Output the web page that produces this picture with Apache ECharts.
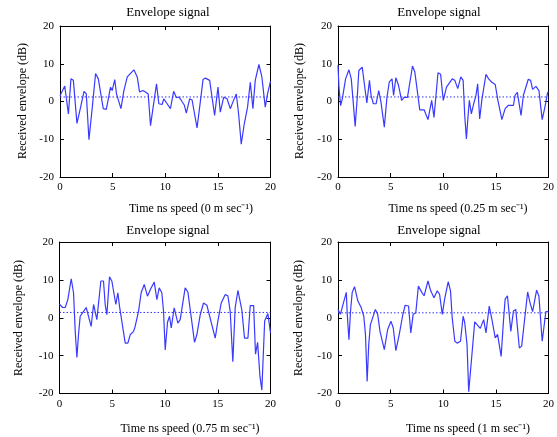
<!DOCTYPE html>
<html>
<head>
<meta charset="utf-8">
<script src="https://cdn.jsdelivr.net/npm/echarts@6/dist/echarts.min.js"></script>
<style>
html,body{margin:0;padding:0;background:#fff;}
#chart{width:557px;height:437px;}
</style>
</head>
<body>
<div id="chart"></div>
<script>
// ---- Data (time in ns, received envelope in dB) ----
const panelTitle = 'Envelope signal';
const yAxisName = 'Received envelope (dB)';
const speedLabels = ['0', '0.25', '0.75', '1'];
const xTicks = [0, 5, 10, 15, 20];
const yTicks = [-20, -10, 0, 10, 20];
const meanLevels = [1.2, 1.2, 1.4, 1.3];

// speed 0 m/s
const timeA = [0,0.45,0.8,1.04,1.27,1.61,1.96,2.28,2.5,2.75,3.07,3.38,3.64,4.11,4.4,4.59,4.8,4.96,5.2,5.37,5.79,6.07,6.39,7.02,7.34,7.56,7.87,8.12,8.38,8.6,8.85,9.17,9.39,9.7,9.86,10.18,10.49,10.8,11.06,11.28,11.5,11.82,12.0,12.32,12.55,13.02,13.27,13.59,13.81,14.22,14.69,15.01,15.23,15.55,15.86,16.18,16.49,16.75,16.97,17.22,17.51,17.82,18.08,18.33,18.55,18.9,19.18,19.5,19.72,20];
const envA  = [1.5,4.1,-3.3,6.0,5.6,-5.8,-1.5,2.7,2.0,-10.1,-1.5,7.4,6.0,-1.9,-2.1,-1.6,3.8,2.9,5.8,2.0,-1.9,2.9,6.5,8.4,6.5,2.5,2.9,2.5,2.0,-6.4,-1.5,4.7,-0.6,-0.8,0.7,-0.6,-1.9,2.7,1.0,1.2,0.4,-1.0,-3.1,0.7,0.4,-7.0,-1.5,5.8,6.2,5.6,-3.7,3.8,-2.8,1.1,0.8,-1.9,0.3,2.0,-3.3,-11.3,-5.9,-1.5,5.1,-1.9,5.6,9.8,6.5,-1.5,2.0,5.4];

// speed 0.25 m/s
const timeB = [0,0.09,0.25,0.41,0.72,1.04,1.26,1.42,1.63,1.82,1.98,2.3,2.52,2.74,2.99,3.14,3.36,3.62,3.87,4.09,4.4,4.65,4.87,5.13,5.28,5.5,5.75,6.04,6.29,6.6,7.08,7.3,7.55,7.77,8.18,8.55,8.9,9.12,9.34,9.5,9.75,10.0,10.31,10.85,11.1,11.38,11.67,11.89,12.04,12.2,12.36,12.48,12.67,12.89,13.11,13.27,13.46,13.68,14.06,14.31,14.62,14.94,15.19,15.57,15.88,16.2,16.67,16.82,17.04,17.39,17.61,18.08,18.3,18.49,18.81,19.09,19.4,19.65,19.91,20];
const envB  = [9.6,3.8,-1.1,0.7,6.0,8.4,6.0,0.7,-6.6,0.7,8.2,9.1,4.3,-0.4,5.6,1.6,-0.6,-0.6,2.9,-0.3,-6.8,1.1,5.1,6.0,1.6,6.3,4.3,0.3,1.1,1.1,9.4,7.8,2.5,-2.2,-2.2,-4.8,0.3,-4.2,2.5,7.6,7.2,0.3,3.8,6.0,5.6,3.4,6.5,5.6,-3.7,-9.9,-3.7,0.3,-3.3,-0.6,1.6,4.7,-4.6,0.7,7.2,6.0,5.1,4.5,0.3,-4.8,-1.9,-1.0,-1.0,1.6,2.4,-3.7,1.6,5.9,5.6,3.2,4.0,2.9,-4.8,-1.6,2.3,2.5];

// speed 0.75 m/s
const timeC = [0,0.29,0.54,0.79,1.11,1.33,1.49,1.65,1.8,1.96,2.28,2.53,3.0,3.23,3.54,3.92,4.17,4.33,4.49,4.74,4.96,5.34,5.53,5.69,6.23,6.48,6.7,7.02,7.17,7.49,7.74,8.03,8.34,8.66,8.98,9.23,9.45,9.7,9.86,10.02,10.24,10.43,10.59,10.87,11.22,11.44,11.91,12.17,12.8,13.02,13.34,13.65,13.97,14.76,15.01,15.33,15.7,15.96,16.18,16.43,16.65,16.91,17.28,17.54,17.86,18.08,18.4,18.58,18.78,19.0,19.18,19.32,19.45,19.75,20];
const envC  = [3.6,2.7,2.7,4.8,10.3,6.6,-3.6,-10.5,-4.5,0.4,1.7,2.7,-2.3,3.5,-0.5,9.7,9.7,3.5,0.8,10.8,9.7,3.5,6.6,3.0,-6.7,-6.7,-4.5,-3.6,-2.3,1.7,6.6,8.8,5.7,7.7,9.4,4.8,7.9,6.6,1.7,-8.5,-1.2,0.4,-2.7,2.6,-1.4,-0.5,7.9,6.8,-6.5,-4.5,0.8,3.9,3.3,-5.4,-0.9,3.9,6.1,5.8,1.7,-11.6,2.6,7.2,2.1,-5.4,-5.4,3.2,3.2,-9.6,-6.5,-15.5,-19.1,-9.5,-0.8,1.1,-4.0];

// speed 1 m/s
const timeD = [0,0.22,0.79,0.88,1.04,1.19,1.35,1.57,1.89,2.2,2.45,2.61,2.77,2.92,3.08,3.55,3.77,3.99,4.4,4.72,5.03,5.25,5.5,5.82,6.13,6.38,6.7,6.92,7.14,7.39,7.64,7.96,8.18,8.55,8.81,9.12,9.43,9.65,9.91,10.13,10.47,10.69,10.85,11.1,11.32,11.64,11.89,12.04,12.26,12.42,12.67,12.99,13.52,13.84,14.06,14.37,14.62,14.94,15.16,15.5,15.72,15.88,16.1,16.42,16.67,16.89,17.23,17.45,18.02,18.24,18.49,18.87,19.09,19.4,19.75,20];
const envD  = [2.2,0.9,6.7,0.9,-5.8,1.8,6.7,8.2,4.4,2.7,0.4,-4.4,-16.8,-7.1,-1.8,2.2,0.9,-3.6,-8.4,-3.1,-0.9,-2.7,-8.7,-4.4,0.4,3.3,3.1,-4.0,0.9,1.3,8.4,6.7,5.8,9.7,7.1,5.3,7.1,6.2,0.9,4.9,9.5,7.1,0.0,-6.2,-6.7,-6.2,0.4,-1.3,-7.1,-19.5,-11.5,-1.1,-2.8,-0.5,-4.0,3.1,-0.4,-5.3,-4.4,-10.2,-0.9,4.9,5.8,-3.6,1.8,2.2,-8.0,-7.5,6.8,4.0,1.6,7.3,5.7,-6.2,1.6,1.6];

const times = [timeA, timeB, timeC, timeD];
const envs  = [envA, envB, envC, envD];

// ---- Layout ----
const grids = [
  {left: 60,   top: 26,  width: 210.5, height: 151},
  {left: 338,  top: 26,  width: 212,   height: 151},
  {left: 59.5, top: 242, width: 211,   height: 151.5},
  {left: 338,  top: 242, width: 212,   height: 151.5}
];
const titlePos = [[168, 13], [439, 13], [168, 231], [439, 231]];
const xNamePos = [[191, 209], [458, 209], [190, 429], [468, 429]];
const yNamePos = [[23, 101], [300, 101], [19, 318], [299, 318]];

const FONT = '"Liberation Serif", "Times New Roman", serif';
const lineColor = '#3a3aff';
const meanColor = '#2f2fff';
function axisBase() {
  return {
    axisLine: {show: true, onZero: false, lineStyle: {color: '#000', width: 1}},
    axisTick: {show: true, inside: true, length: 4, lineStyle: {color: '#000'}},
    splitLine: {show: false}
  };
}

const xMin = xTicks[0], xMax = xTicks[xTicks.length - 1];
const xAxes = [], yAxes = [], series = [], graphics = [];
for (let i = 0; i < 4; i++) {
  xAxes.push(Object.assign(axisBase(), {
    type: 'value', gridIndex: i, position: 'bottom', min: xMin, max: xMax, interval: 5,
    axisLabel: {show: true, color: '#000', fontFamily: FONT, fontSize: 11, margin: 5}
  }));
  xAxes.push(Object.assign(axisBase(), {
    type: 'value', gridIndex: i, position: 'top', min: xMin, max: xMax, interval: 5,
    axisLabel: {show: false}
  }));
  yAxes.push(Object.assign(axisBase(), {
    type: 'value', gridIndex: i, position: 'left', min: yTicks[0], max: yTicks[yTicks.length - 1], interval: 10,
    axisLabel: {show: true, color: '#000', fontFamily: FONT, fontSize: 11, margin: 6}
  }));
  yAxes.push(Object.assign(axisBase(), {
    type: 'value', gridIndex: i, position: 'right', min: yTicks[0], max: yTicks[yTicks.length - 1], interval: 10,
    axisLabel: {show: false}
  }));
  // mean level (dotted)
  series.push({
    type: 'line', xAxisIndex: 2 * i, yAxisIndex: 2 * i,
    data: [[xMin, meanLevels[i]], [xMax, meanLevels[i]]],
    showSymbol: false, symbol: 'none', silent: true,
    lineStyle: {color: meanColor, type: [1.5, 2], width: 1}
  });
  // envelope signal
  series.push({
    type: 'line', xAxisIndex: 2 * i, yAxisIndex: 2 * i,
    data: times[i].map((t, k) => [t, envs[i][k]]),
    showSymbol: false, symbol: 'none',
    lineStyle: {color: lineColor, width: 1.2},
    clip: true
  });
  graphics.push({
    type: 'text', x: titlePos[i][0], y: titlePos[i][1],
    style: {text: panelTitle, font: '13px ' + FONT, fill: '#000', textAlign: 'center', textVerticalAlign: 'middle'}
  });
  graphics.push({
    type: 'text', x: xNamePos[i][0], y: xNamePos[i][1],
    style: {text: 'Time ns speed (' + speedLabels[i] + ' m sec\u207B\u00B9)', font: '12px ' + FONT, fill: '#000', textAlign: 'center', textVerticalAlign: 'middle'}
  });
  graphics.push({
    type: 'text', x: yNamePos[i][0], y: yNamePos[i][1], rotation: Math.PI / 2,
    style: {text: yAxisName, font: '12px ' + FONT, fill: '#000', textAlign: 'center', textVerticalAlign: 'middle'}
  });
}

const chart = echarts.init(document.getElementById('chart'), null, {renderer: 'canvas'});
chart.setOption({
  animation: false,
  backgroundColor: '#fff',
  grid: grids,
  xAxis: xAxes,
  yAxis: yAxes,
  series: series,
  graphic: graphics
});
</script>
</body>
</html>
